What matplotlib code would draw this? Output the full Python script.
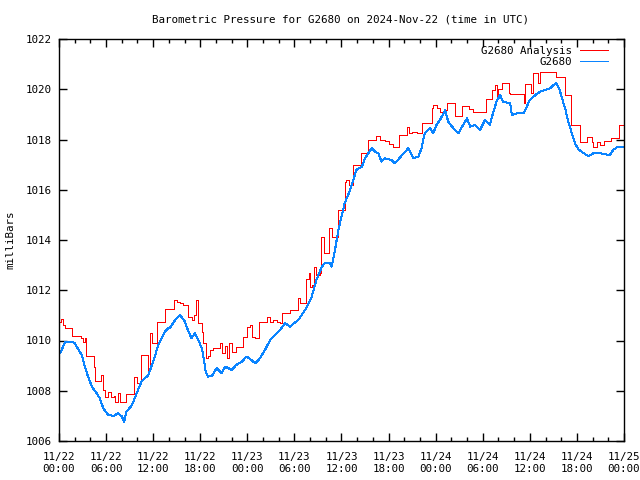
import matplotlib
matplotlib.use("Agg")
import matplotlib.pyplot as plt
import matplotlib.dates as mdates
import pandas as pd

# hours since 2024-11-22 00:00 UTC, pressure in millibars
obs_hours = [0.0, 0.3, 0.8, 1.5, 2.0, 2.3, 2.9, 3.3, 3.7, 4.2, 4.8, 5.2, 5.65, 6.3, 7.0, 7.5, 8.0, 8.3,
             8.6, 9.3, 9.9, 10.5, 11.4, 12.2, 12.65, 13.5, 13.9, 14.1, 14.8, 15.4, 16.05, 16.5, 16.9,
             17.3, 17.75, 18.2, 18.4, 18.7, 19.0, 19.5, 20.1, 20.7, 21.2, 22.0, 22.6, 23.3, 23.9, 24.55,
             25.0, 25.6, 26.25, 26.9, 27.5, 28.2, 28.8, 29.4, 30.5, 31.35, 32.2, 32.8, 33.5, 33.9, 34.5,
             34.75, 35.1, 35.6, 36.0, 36.4, 37.1, 37.5, 37.9, 38.6, 39.0, 39.4, 39.85, 40.3, 40.7, 41.1,
             41.5, 42.4, 42.8, 43.5, 44.5, 45.15, 45.8, 46.2, 46.6, 47.3, 47.7, 48.1, 48.55, 49.0, 49.2,
             49.6, 50.25, 50.9, 51.5, 52.0, 52.4, 53.0, 53.65, 54.3, 54.9, 55.3, 55.75, 56.2, 56.6, 57.5,
             57.7, 58.5, 59.2, 59.6, 60.0, 60.7, 61.3, 61.9, 62.6, 63.0, 63.4, 63.8, 64.1, 64.5, 64.9,
             65.3, 65.75, 66.2, 66.8, 67.45, 68.1, 69.0, 70.2, 70.6, 71.1, 72.0]
obs_press = [1009.45, 1009.6, 1009.95, 1009.95, 1009.9, 1009.73, 1009.42, 1008.96, 1008.56, 1008.16,
             1007.9, 1007.7, 1007.3, 1007.03, 1007.0, 1007.1, 1006.98, 1006.77, 1007.17, 1007.43,
             1007.9, 1008.36, 1008.63, 1009.36, 1009.82, 1010.35, 1010.49, 1010.49, 1010.82, 1011.02,
             1010.75, 1010.35, 1010.09, 1010.29, 1010.02, 1009.69, 1009.36, 1008.76, 1008.56, 1008.6,
             1008.9, 1008.7, 1008.96, 1008.83, 1009.03, 1009.16, 1009.36, 1009.22, 1009.09, 1009.29,
             1009.62, 1010.02, 1010.22, 1010.42, 1010.7, 1010.55, 1010.82, 1011.21, 1011.74, 1012.41,
             1012.94, 1013.1, 1013.1, 1012.94, 1013.47, 1014.4, 1014.93, 1015.46, 1015.99, 1016.39,
             1016.79, 1016.92, 1017.25, 1017.45, 1017.65, 1017.51, 1017.45, 1017.12, 1017.25, 1017.18,
             1017.05, 1017.3, 1017.65, 1017.25, 1017.32, 1017.65, 1018.25, 1018.45, 1018.25, 1018.58,
             1018.78, 1019.04, 1019.17, 1018.71, 1018.45, 1018.25, 1018.58, 1018.84, 1018.51, 1018.58,
             1018.38, 1018.78, 1018.58, 1019.04, 1019.5, 1019.77, 1019.5, 1019.44, 1018.98, 1019.05,
             1019.04, 1019.31, 1019.57, 1019.77, 1019.9, 1019.97, 1020.04, 1020.17, 1020.24, 1019.97,
             1019.64, 1019.24, 1018.71, 1018.31, 1017.85, 1017.61, 1017.47, 1017.34, 1017.45, 1017.45,
             1017.38, 1017.58, 1017.69, 1017.69]

ana_hours = [0.0, 0.3, 0.5, 0.76, 1.6, 2.8, 3.0, 3.3, 3.5, 4.5, 4.6, 5.4, 5.65, 5.8, 6.3, 6.6, 7.0, 7.2,
             7.5, 7.8, 8.5, 9.6, 9.9, 10.45, 11.4, 11.6, 11.8, 12.45, 13.5, 14.6, 15.0, 15.4, 15.8, 16.5,
             16.9, 17.2, 17.5, 17.75, 18.2, 18.4, 18.7, 19.0, 19.2, 19.6, 20.5, 20.8, 21.1, 21.4, 21.6,
             22.0, 22.6, 23.5, 23.9, 24.3, 24.6, 25.0, 25.5, 26.5, 26.9, 27.3, 27.8, 28.2, 28.4, 29.4,
             30.5, 30.7, 31.5, 31.8, 32.0, 32.2, 32.5, 32.8, 33.3, 33.4, 33.8, 34.45, 34.8, 35.5, 36.4,
             36.6, 36.9, 37.5, 38.5, 39.4, 40.4, 40.9, 41.5, 42.0, 42.6, 43.3, 44.4, 44.6, 45.0, 45.6,
             46.3, 47.5, 47.7, 48.2, 48.55, 49.0, 49.4, 50.5, 51.4, 52.2, 52.8, 54.4, 55.2, 55.6, 55.8,
             56.0, 56.4, 57.3, 57.5, 59.25, 59.4, 60.1, 60.4, 61.1, 61.3, 62.5, 63.3, 64.5, 65.3, 66.4,
             67.3, 67.9, 68.1, 68.5, 68.9, 69.4, 70.3, 71.4, 72.0]
ana_press = [1010.75, 1010.85, 1010.6, 1010.49, 1010.18, 1010.09, 1009.95, 1010.1, 1009.38, 1008.96,
             1008.4, 1008.63, 1008.03, 1007.74, 1007.95, 1007.75, 1007.8, 1007.56, 1007.9, 1007.56,
             1007.86, 1008.53, 1008.3, 1009.42, 1008.83, 1010.29, 1009.89, 1010.72, 1011.25, 1011.61,
             1011.55, 1011.48, 1011.41, 1010.95, 1010.82, 1011.0, 1011.61, 1010.68, 1010.35, 1009.89,
             1009.29, 1009.4, 1009.62, 1009.7, 1009.89, 1009.5, 1009.8, 1009.29, 1009.89, 1009.55,
             1009.75, 1010.15, 1010.55, 1010.62, 1010.15, 1010.09, 1010.75, 1010.95, 1010.75, 1010.82,
             1010.75, 1010.68, 1011.08, 1011.21, 1011.68, 1011.48, 1012.44, 1012.67, 1012.14, 1012.2,
             1012.94, 1012.6, 1012.67, 1014.13, 1013.47, 1014.46, 1014.13, 1015.19, 1016.32, 1016.4,
             1016.19, 1016.99, 1017.45, 1017.98, 1018.14, 1017.98, 1017.95, 1017.82, 1017.71, 1018.18,
             1018.51, 1018.25, 1018.3, 1018.25, 1018.64, 1019.24, 1019.37, 1019.24, 1019.11, 1019.17,
             1019.47, 1018.94, 1019.34, 1019.2, 1019.11, 1019.6, 1019.97, 1020.17, 1019.7, 1020.0,
             1020.26, 1019.84, 1019.8, 1019.44, 1020.21, 1019.84, 1020.63, 1020.24, 1020.7, 1020.68,
             1020.5, 1019.77, 1018.58, 1017.91, 1018.11, 1017.91, 1017.71, 1017.91, 1017.8, 1017.95,
             1018.04, 1018.58, 1018.58]

start = pd.Timestamp("2024-11-22 00:00")
obs_time = start + pd.to_timedelta(obs_hours, unit="h")
ana_time = start + pd.to_timedelta(ana_hours, unit="h")

plt.rcParams['font.family'] = "DejaVu Sans Mono"
plt.rcParams['font.size'] = 7.8

fig = plt.figure(figsize=(6.4, 4.8), dpi=100)
ax = fig.add_axes([59 / 640, 1 - 441 / 480, 565 / 640, 402 / 480])

# gnuplot-like: 1px aliased lines
ax.plot(ana_time, ana_press, color='#ff0000', lw=0.72, drawstyle='steps-post',
        antialiased=False, label='G2680 Analysis')
ax.plot(obs_time, obs_press, color='#0a84ff', lw=0.72, antialiased=False, label='G2680')

ax.set_xlim(start, start + pd.Timedelta(hours=72))
ax.set_ylim(1006, 1022)
ax.set_yticks(range(1006, 1023, 2))

ax.xaxis.set_major_locator(mdates.HourLocator(byhour=range(0, 24, 6)))
ax.xaxis.set_minor_locator(mdates.HourLocator(byhour=range(0, 24, 2)))
ax.xaxis.set_major_formatter(mdates.DateFormatter("%m/%d\n%H:%M"))

ax.tick_params(which='both', direction='in', top=True, right=True, width=1, colors='black')
ax.tick_params(which='major', length=6, pad=5)
ax.tick_params(axis='x', which='major', pad=8)
ax.tick_params(which='minor', length=3)
for s in ax.spines.values():
    s.set_linewidth(1.0)

ax.set_ylabel("milliBars", labelpad=8)
fig.text(341 / 640, 1 - 19 / 480, "Barometric Pressure for G2680 on 2024-Nov-22 (time in UTC)",
         ha='center', va='center')

ax.legend(loc='upper right', bbox_to_anchor=(1 - 8 / 565, 1 + 1 / 402), markerfirst=False,
          frameon=False, handlelength=2.6, handletextpad=0.8, labelspacing=0.15, borderaxespad=0.3)

fig.savefig("out.png", dpi=100, facecolor='white')
